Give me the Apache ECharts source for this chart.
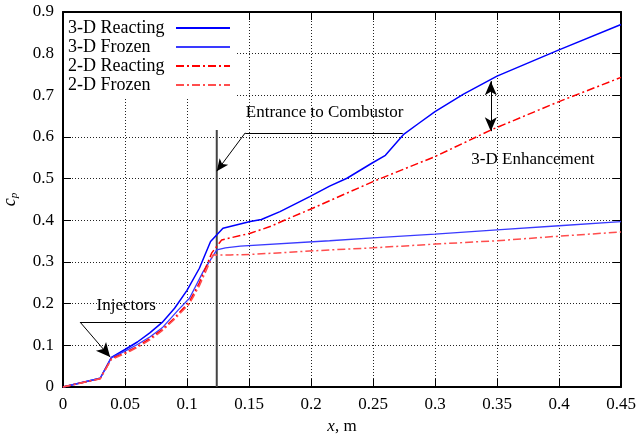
<!DOCTYPE html>
<html>
<head>
<meta charset="utf-8">
<script src="https://cdn.jsdelivr.net/npm/echarts@6/dist/echarts.min.js"></script>
<style>html,body{margin:0;padding:0;background:#fff}#c{width:641px;height:439px}</style>
</head>
<body>
<div id="c"></div>
<script>
// ---- data ----
const seriesNames = ['3-D Reacting', '3-D Frozen', '2-D Reacting', '2-D Frozen'];
const xR3 = [0,0.03,0.039,0.05,0.06,0.07,0.08,0.09,0.1,0.11,0.119,0.129,0.151,0.16,0.175,0.199,0.215,0.229,0.249,0.26,0.275,0.287,0.3,0.323,0.35,0.4,0.45];
const yR3 = [0,0.021,0.071,0.09,0.108,0.13,0.155,0.189,0.232,0.285,0.349,0.381,0.397,0.402,0.421,0.457,0.482,0.501,0.537,0.556,0.607,0.633,0.661,0.703,0.746,0.809,0.870];
const xF3 = [0,0.03,0.039,0.05,0.06,0.07,0.08,0.093,0.102,0.113,0.124,0.131,0.143,0.215,0.25,0.3,0.35,0.4,0.45];
const yF3 = [0,0.021,0.07,0.086,0.102,0.12,0.142,0.185,0.213,0.277,0.329,0.334,0.338,0.351,0.358,0.367,0.377,0.387,0.397];
const xR2 = [0,0.03,0.039,0.05,0.06,0.07,0.08,0.09,0.102,0.11,0.12,0.128,0.151,0.167,0.18,0.199,0.215,0.25,0.3,0.346,0.4,0.45];
const yR2 = [0,0.02,0.068,0.082,0.097,0.116,0.138,0.166,0.205,0.25,0.322,0.353,0.369,0.385,0.402,0.426,0.447,0.493,0.553,0.618,0.685,0.743];
const xF2 = [0,0.03,0.039,0.05,0.06,0.07,0.08,0.09,0.102,0.11,0.121,0.135,0.151,0.215,0.25,0.3,0.35,0.4,0.45];
const yF2 = [0,0.02,0.066,0.08,0.095,0.113,0.135,0.163,0.2,0.243,0.317,0.317,0.318,0.329,0.334,0.343,0.351,0.362,0.372];
// annotations (data coordinates)
const entranceX = 0.124, entranceTop = 0.617;
const entranceText = 'Entrance to Combustor';
const entranceLine = [[0.274, 0.61], [0.147, 0.61], [0.124, 0.518]];
const entranceTextPos = [0.211, 0.658];
const injText = 'Injectors';
const injLine = [[0.0806, 0.156], [0.0137, 0.156], [0.038, 0.072]];
const injTextPos = [0.051, 0.195];
const enhText = '3-D Enhancement';
const enhArrow = [[0.345, 0.734], [0.345, 0.614]];
const enhTextPos = [0.379, 0.547];

const zip = (xs, ys) => xs.map((x, i) => [x, ys[i]]);
const FONT = 'Liberation Serif';
const dashDot = [8, 3, 2, 3];

const chart = echarts.init(document.getElementById('c'), null, {renderer: 'canvas'});
const axisCommon = {
  type: 'value',
  axisLine: {show: true, onZero: false, lineStyle: {color: '#000', width: 2}},
  axisTick: {show: true, inside: true, length: 8, lineStyle: {color: '#000', width: 1}},
};
const option = {
  animation: false,
  backgroundColor: '#fff',
  textStyle: {fontFamily: FONT},
  grid: {left: 63, right: 20, top: 12, bottom: 52, containLabel: false, outerBoundsMode: 'none'},
  xAxis: [
    Object.assign({}, axisCommon, {
      min: 0, max: 0.45, interval: 0.05, position: 'bottom',
      axisLabel: {color: '#000', fontFamily: FONT, fontSize: 17, margin: 9},
      splitLine: {show: true, lineStyle: {color: '#222', width: 1, type: [1, 2]}},
      name: '{i|x}, m', nameLocation: 'middle', nameGap: 27,
      nameTextStyle: {color: '#000', fontFamily: FONT, fontSize: 17,
        rich: {i: {fontStyle: 'italic', fontFamily: FONT, fontSize: 17, color: '#000'}}}
    }),
    Object.assign({}, axisCommon, {
      min: 0, max: 0.45, interval: 0.05, position: 'top',
      axisLabel: {show: false}, splitLine: {show: false}
    })
  ],
  yAxis: [
    Object.assign({}, axisCommon, {
      min: 0, max: 0.9, interval: 0.1, position: 'left',
      axisLabel: {color: '#000', fontFamily: FONT, fontSize: 17, margin: 9},
      splitLine: {show: true, lineStyle: {color: '#222', width: 1, type: [1, 2]}},
      name: '{c|c}{p|p}', nameLocation: 'middle', nameGap: 43, nameRotate: 90,
      nameTextStyle: {color: '#000', fontFamily: FONT,
        rich: {c: {fontStyle: 'italic', fontFamily: FONT, fontSize: 18, color: '#000'},
               p: {fontStyle: 'italic', fontFamily: FONT, fontSize: 11, color: '#000', verticalAlign: 'bottom', padding: [8, 0, 0, 0]}}}
    }),
    Object.assign({}, axisCommon, {
      min: 0, max: 0.9, interval: 0.1, position: 'right',
      axisLabel: {show: false}, splitLine: {show: false}
    })
  ],
  legend: {
    data: seriesNames,
    orient: 'vertical', left: 64, top: 13, align: 'right',
    itemStyle: {opacity: 0},
    backgroundColor: '#fff', padding: [6, 5, 5, 4],
    itemWidth: 54, itemHeight: 14, itemGap: 1,
    formatter: '{a|{name}}',
    textStyle: {color: '#000', fontFamily: FONT, fontSize: 18,
      rich: {a: {width: 103, align: 'left', fontFamily: FONT, fontSize: 18, color: '#000'}}},
    selectedMode: false
  },
  series: [
    {name: seriesNames[0], type: 'line', data: zip(xR3, yR3), showSymbol: false, symbol: 'none', z: 5,
      lineStyle: {color: '#0000ff', width: 1.5}, itemStyle: {color: '#0000ff'}},
    {name: seriesNames[1], type: 'line', data: zip(xF3, yF3), showSymbol: false, symbol: 'none', z: 5,
      lineStyle: {color: '#3a3aff', width: 1.3}, itemStyle: {color: '#3a3aff'}},
    {name: seriesNames[2], type: 'line', data: zip(xR2, yR2), showSymbol: false, symbol: 'none', z: 5,
      lineStyle: {color: '#ff0000', width: 1.5, type: dashDot}, itemStyle: {color: '#ff0000'}},
    {name: seriesNames[3], type: 'line', data: zip(xF2, yF2), showSymbol: false, symbol: 'none', z: 5,
      lineStyle: {color: '#ff4d4d', width: 1.5, type: dashDot}, itemStyle: {color: '#ff4d4d'}},
    {name: 'entrance', type: 'line', data: [[entranceX, 0], [entranceX, entranceTop]], showSymbol: false, symbol: 'none', z: 4,
      lineStyle: {color: '#444', width: 2}},
    {name: 'annot', type: 'line', data: [], silent: true,
      markLine: {
        silent: true, animation: false, label: {show: false},
        lineStyle: {color: '#000', width: 1, type: 'solid'},
        symbolSize: [9, 13],
        data: [
          [{coord: entranceLine[0], symbol: 'none'}, {coord: entranceLine[1], symbol: 'none'}],
          [{coord: entranceLine[1], symbol: 'none'}, {coord: entranceLine[2], symbol: 'arrow', symbolSize: [8, 12]}],
          [{coord: injLine[0], symbol: 'none'}, {coord: injLine[1], symbol: 'none'}],
          [{coord: injLine[1], symbol: 'none'}, {coord: injLine[2], symbol: 'arrow', symbolSize: [10, 14]}],
          [{coord: enhArrow[0], symbol: 'arrow', symbolSize: [9, 14]}, {coord: enhArrow[1], symbol: 'arrow', symbolSize: [9, 14]}]
        ]
      }}
  ]
};
chart.setOption(option);

const px = p => chart.convertToPixel({xAxisIndex: 0, yAxisIndex: 0}, p);
const txt = (pos, s) => {
  const p = px(pos);
  return {type: 'text', x: p[0], y: p[1], z: 10,
    style: {text: s, fontFamily: FONT, fontSize: 17, fill: '#000', align: 'center', verticalAlign: 'middle'}};
};
chart.setOption({graphic: [txt(entranceTextPos, entranceText), txt(injTextPos, injText), txt(enhTextPos, enhText)]});
</script>
</body>
</html>
